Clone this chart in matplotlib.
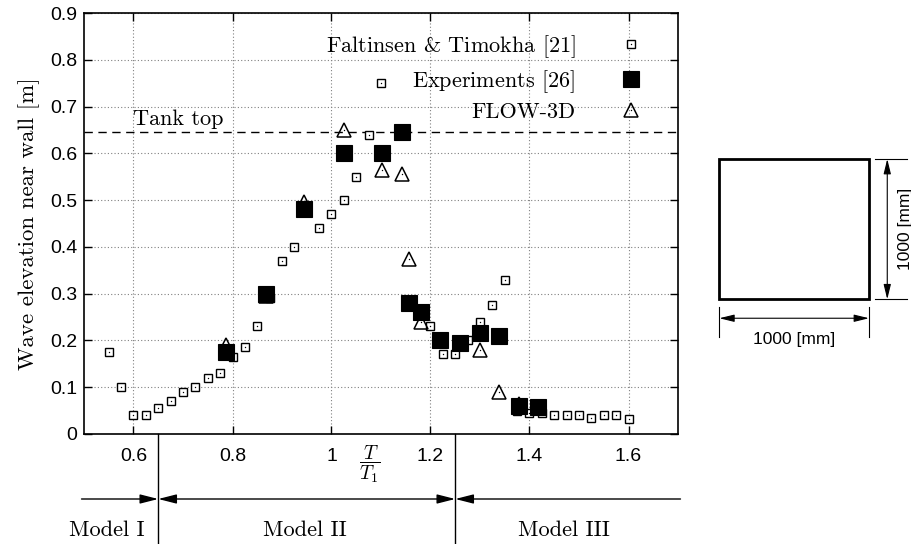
import matplotlib
matplotlib.use("Agg")
import matplotlib.pyplot as plt
import numpy as np
from matplotlib.patches import Rectangle

# ---------------- data ----------------
ft_x = [0.55, 0.575, 0.60, 0.625, 0.65, 0.675, 0.70, 0.725, 0.75, 0.775, 0.80, 0.825,
        0.85, 0.875, 0.90, 0.925, 0.975, 1.00, 1.025, 1.05, 1.075, 1.10,
        1.20, 1.225, 1.25, 1.275, 1.30, 1.325, 1.35, 1.375, 1.40, 1.425, 1.45,
        1.475, 1.50, 1.525, 1.55, 1.575, 1.60]
ft_y = [0.175, 0.10, 0.04, 0.04, 0.055, 0.07, 0.09, 0.10, 0.12, 0.13, 0.165, 0.185,
        0.23, 0.29, 0.37, 0.40, 0.44, 0.47, 0.50, 0.55, 0.64, 0.75,
        0.23, 0.17, 0.17, 0.20, 0.24, 0.275, 0.33, 0.05, 0.045, 0.045, 0.04,
        0.04, 0.04, 0.035, 0.04, 0.04, 0.033]

exp_x = [0.787, 0.867, 0.945, 1.025, 1.103, 1.142, 1.157, 1.18, 1.22, 1.259, 1.299, 1.339, 1.378, 1.418]
exp_y = [0.175, 0.30, 0.48, 0.60, 0.60, 0.645, 0.28, 0.26, 0.20, 0.195, 0.215, 0.21, 0.06, 0.058]

flow_x = [0.787, 0.867, 0.945, 1.025, 1.103, 1.142, 1.157, 1.18, 1.299, 1.339, 1.378]
flow_y = [0.19, 0.295, 0.495, 0.65, 0.565, 0.555, 0.375, 0.24, 0.18, 0.09, 0.065]

series_labels = [r"Faltinsen & Timokha $\mathsf{[21]}$",
                 r"Experiments $\mathsf{[26]}$",
                 "FLOW-3D"]

tank_top = 0.645
model_bounds = [0.65, 1.25]
model_labels = ["Model I", "Model II", "Model III"]

xticks = [0.6, 0.8, 1.0, 1.2, 1.4, 1.6]
xticklabels = ["0.6", "0.8", "1", "1.2", "1.4", "1.6"]
yticks = [0, 0.1, 0.2, 0.3, 0.4, 0.5, 0.6, 0.7, 0.8, 0.9]
yticklabels = ["0", "0.1", "0.2", "0.3", "0.4", "0.5", "0.6", "0.7", "0.8", "0.9"]

tank_width_mm = 1000
tank_height_mm = 1000

# ---------------- style ----------------
plt.rcParams["mathtext.fontset"] = "cm"
SERIF = "cmr10"
SANS = "Liberation Sans"
FS_SERIF = 16
FS_TICK = 14

W, H = 912, 544
fig = plt.figure(figsize=(W / 100, H / 100), dpi=100)
fig.patch.set_facecolor("white")

ax_l, ax_r, ax_t, ax_b = 84, 678, 13, 434
ax = fig.add_axes([ax_l / W, 1 - ax_b / H, (ax_r - ax_l) / W, (ax_b - ax_t) / H])

# grid
ax.grid(True, linestyle=(0, (1, 2)), color="#808080", linewidth=0.8)
ax.set_axisbelow(True)

# F&T: small dotted squares
h_ft1, = ax.plot(ft_x, ft_y, linestyle="none", marker="s", markersize=5.5,
                 markerfacecolor="white", markeredgecolor="black", markeredgewidth=1.0, zorder=3)
h_ft2, = ax.plot(ft_x, ft_y, linestyle="none", marker="o", markersize=1.0,
                 markerfacecolor="black", markeredgecolor="black", markeredgewidth=0, zorder=3.1)
# Experiments: filled squares
h_exp, = ax.plot(exp_x, exp_y, linestyle="none", marker="s", markersize=12,
                 markerfacecolor="black", markeredgecolor="black", markeredgewidth=0.8, zorder=4)
# FLOW-3D: open triangles with dot
h_fl1, = ax.plot(flow_x, flow_y, linestyle="none", marker="^", markersize=10.5,
                 markerfacecolor="none", markeredgecolor="black", markeredgewidth=1.1, zorder=5)
h_fl2, = ax.plot(flow_x, flow_y, linestyle="none", marker="o", markersize=1.0,
                 markerfacecolor="black", markeredgecolor="black", markeredgewidth=0, zorder=5.1)

# tank top
ax.axhline(tank_top, color="black", linestyle=(0, (6, 4)), linewidth=1.0, zorder=2)
ax.text(0.6, tank_top + 0.008, "Tank top", fontfamily=SERIF, fontsize=FS_SERIF,
        ha="left", va="bottom")

ax.set_xlim(0.5, 1.7)
ax.set_ylim(0, 0.9)
ax.set_xticks(xticks)
ax.set_xticklabels(xticklabels, fontfamily=SANS, fontsize=FS_TICK)
ax.set_yticks(yticks)
ax.set_yticklabels(yticklabels, fontfamily=SANS, fontsize=FS_TICK)
ax.tick_params(direction="in", length=6, width=1, top=True, right=True)
ax.tick_params(axis="x", pad=10)
ax.tick_params(axis="y", pad=5)
for s in ax.spines.values():
    s.set_linewidth(1.2)

ax.set_ylabel("Wave elevation near wall [m]", fontfamily=SERIF, fontsize=16.5, labelpad=7)

# T/T1 label
ax.text(1.077, -0.071, r"$\dfrac{T}{T_1}$", transform=ax.get_xaxis_transform(),
        fontsize=14, ha="center", va="center")

# legend
leg = ax.legend([(h_ft1, h_ft2), h_exp, (h_fl1, h_fl2)], series_labels,
                loc="upper right", bbox_to_anchor=(0.94, 0.952),
                markerfirst=False, frameon=False, handlelength=1.0,
                handletextpad=2.0, labelspacing=0.36, borderpad=0, borderaxespad=0,
                prop={"family": SERIF, "size": FS_SERIF})

# ---------------- model regions below the axis ----------------
xt = ax.get_xaxis_transform()
y_arrow = (ax_b - 499) / (ax_b - ax_t)
y_text = (ax_b - 530) / (ax_b - ax_t)
y_bottom = (ax_b - H) / (ax_b - ax_t)
x_start, x_end = 0.495, 1.705

for xb in model_bounds:
    ax.plot([xb, xb], [0, y_bottom], transform=xt, color="black", linewidth=1.0,
            clip_on=False)

segs = [(x_start, model_bounds[0], "-|>"),
        (model_bounds[0], model_bounds[1], "<|-|>"),
        (model_bounds[1], x_end, "<|-")]
for a, b, style in segs:
    ax.annotate("", xy=(b, y_arrow), xytext=(a, y_arrow), xycoords=xt, textcoords=xt,
                arrowprops=dict(arrowstyle=style + ",head_length=1.1,head_width=0.28",
                                color="black", lw=1.0, shrinkA=0, shrinkB=0),
                annotation_clip=False)

label_x = [0.546, 0.947, 1.47]
for lx, lab in zip(label_x, model_labels):
    ax.text(lx, y_text, lab, transform=xt, fontfamily=SERIF, fontsize=FS_SERIF,
            ha="center", va="center")

# ---------------- tank sketch ----------------
sq_l, sq_r, sq_t, sq_b = 719.3, 869.0, 159.0, 299.3
ax2 = fig.add_axes([sq_l / W, 1 - sq_b / H, (sq_r - sq_l) / W, (sq_b - sq_t) / H])
ax2.set_xlim(0, tank_width_mm)
ax2.set_ylim(0, tank_height_mm)
ax2.axis("off")
ax2.add_patch(Rectangle((0, 0), tank_width_mm, tank_height_mm, fill=False,
                        edgecolor="black", linewidth=2.0, clip_on=False))

# right dimension
for yy in (0, tank_height_mm):
    ax2.plot([1040, 1254], [yy, yy], color="black", linewidth=0.8, clip_on=False)
ax2.annotate("", xy=(1122, tank_height_mm), xytext=(1122, 0),
             arrowprops=dict(arrowstyle="<|-|>,head_length=0.9,head_width=0.22",
                             color="black", lw=0.8, shrinkA=0, shrinkB=0),
             annotation_clip=False)
ax2.text(1245, tank_height_mm * 0.5, f"{tank_height_mm} [mm]", rotation=90,
         fontfamily=SANS, fontsize=12.5, ha="center", va="center")

# bottom dimension
for xx in (0, tank_width_mm):
    ax2.plot([xx, xx], [-53, -267], color="black", linewidth=0.8, clip_on=False)
ax2.annotate("", xy=(tank_width_mm, -135), xytext=(0, -135),
             arrowprops=dict(arrowstyle="<|-|>,head_length=0.9,head_width=0.22",
                             color="black", lw=0.8, shrinkA=0, shrinkB=0),
             annotation_clip=False)
ax2.text(tank_width_mm * 0.5, -285, f"{tank_width_mm} [mm]",
         fontfamily=SANS, fontsize=12.5, ha="center", va="center")

fig.savefig("out.png", dpi=100)
